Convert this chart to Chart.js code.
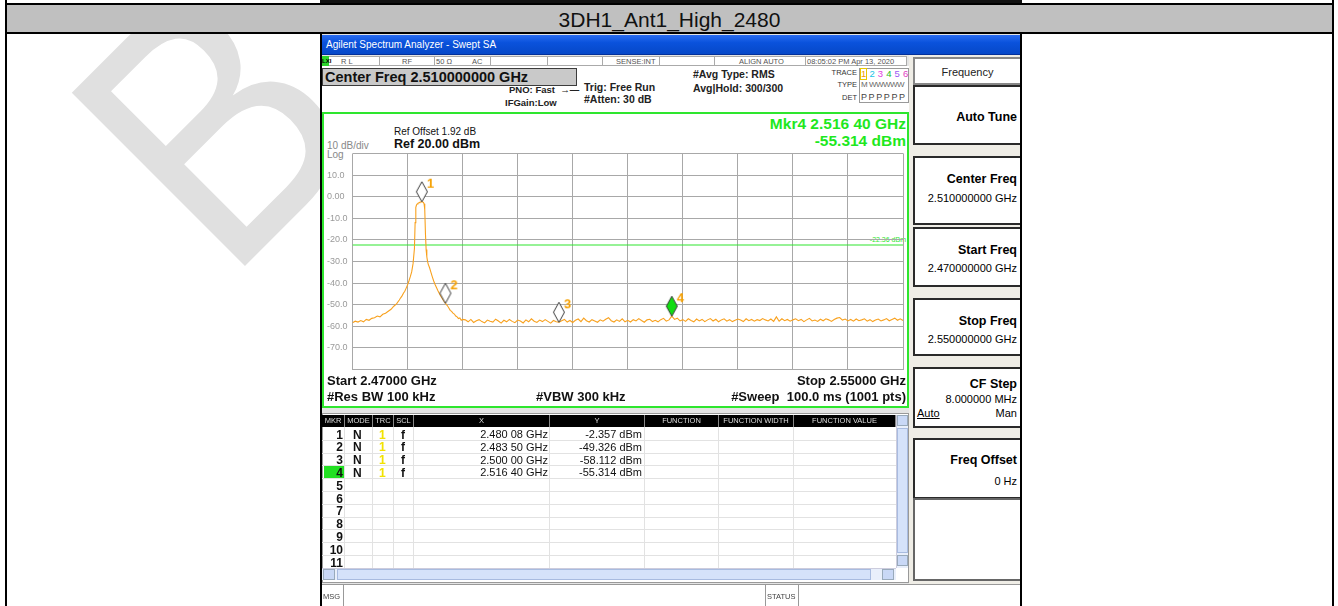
<!DOCTYPE html>
<html lang="en">
<head>
<meta charset="UTF-8">
<title>3DH1_Ant1_High_2480</title>
<script src="https://cdn.jsdelivr.net/npm/chart.js"></script>
<style>
  body {
    margin: 0;
    width: 1338px;
    height: 606px;
    overflow: hidden;
    background: #fff;
    font-family: "Liberation Sans", Arial, sans-serif;
    position: relative;
  }
  .a { position: absolute; box-sizing: border-box; }
  .t { position: absolute; white-space: nowrap; line-height: 1; }
  .b { font-weight: bold; }
  .sk {
    position: absolute;
    left: 913px;
    width: 107px;
    background: #fff;
    border: 2px solid #2a2a2a;
    border-right: none;
    box-sizing: border-box;
  }
  .sk .t { right: 3px; }
  .hdr { position: absolute; top: 415px; height: 12px; background: #000; color: #ddd;
         font-size: 7.5px; line-height: 12px; text-align: center; border-right: 1px solid #888; box-sizing: border-box; }
</style>
</head>
<body>

<canvas id="wm" class="a" width="1338" height="606" style="left:0;top:0"></canvas>

<!-- outer table -->
<div class="a" style="left:320px;top:0;width:702px;height:3px;background:#111"></div>
<div class="a" style="left:5px;top:3px;width:1329px;height:2px;background:#000"></div>
<div class="a" style="left:5px;top:5px;width:1329px;height:27px;background:#c0c0c0"></div>
<div class="t" id="title" style="left:5px;width:1329px;top:9px;text-align:center;font-size:21px;color:#111"></div>
<div class="a" style="left:5px;top:32px;width:1329px;height:2px;background:#000"></div>
<div class="a" style="left:5px;top:0;width:2px;height:606px;background:#000"></div>
<div class="a" style="left:1332px;top:0;width:2px;height:606px;background:#000"></div>

<!-- analyzer screenshot -->
<div class="a" style="left:320px;top:34px;width:702px;height:572px;background:#e4e4e4;border-left:2px solid #000;border-right:2px solid #000"></div>
<div class="a" style="left:322px;top:35px;width:698px;height:20px;background:linear-gradient(#2a6cf0,#0a52dc 40%,#0648c8);border-bottom:1px solid #03309a"></div>
<div class="t" style="left:326px;top:40px;font-size:10px;color:#fff">Agilent Spectrum Analyzer - Swept SA</div>

<!-- status row -->
<div class="a" style="left:322px;top:56px;width:585px;height:10px;background:#fff;border:1px solid #aaa"></div>
<div class="a" style="left:322px;top:56px;width:7px;height:10px;background:#2bd52b"></div>
<div class="t" style="left:322px;top:58px;font-size:6px;color:#000;font-weight:bold">LXI</div>
<div id="statusCells"></div>

<!-- measurement header -->
<div class="a" style="left:322px;top:66px;width:587px;height:46px;background:#fff"></div>
<div class="a" style="left:322px;top:68px;width:255px;height:18px;background:#c9c9c9;border:1px solid #3c3c3c"></div>
<div class="t b" id="cfText" style="left:325px;top:70px;font-size:14.5px;color:#111"></div>
<div class="t b" style="left:509px;top:85px;font-size:9.5px;color:#222">PNO: Fast &nbsp;&#8594;&#8212;</div>
<div class="t b" style="left:505px;top:98px;font-size:9.5px;color:#222">IFGain:Low</div>
<div class="t b" style="left:584px;top:82px;font-size:10.5px;color:#222">Trig: Free Run</div>
<div class="t b" style="left:584px;top:94px;font-size:10.5px;color:#222">#Atten: 30 dB</div>
<div class="t b" style="left:693px;top:69px;font-size:10.5px;color:#222">#Avg Type: RMS</div>
<div class="t b" style="left:693px;top:83px;font-size:10.5px;color:#222">Avg|Hold: 300/300</div>
<div class="t" style="right:481px;top:69px;font-size:7.5px;color:#333">TRACE</div>
<div class="t" style="right:481px;top:81px;font-size:7.5px;color:#333">TYPE</div>
<div class="t" style="right:481px;top:94px;font-size:7.5px;color:#333">DET</div>
<div class="a" style="left:859px;top:68px;width:50px;height:35px;border:1px solid #999"></div>
<div id="traceDigits"></div>
<div class="t" style="left:861px;top:81px;font-size:8px;color:#666;letter-spacing:-0.5px">M WWWWW</div>
<div class="t" style="left:861px;top:93px;font-size:9px;color:#444;letter-spacing:1.6px">PPPPPP</div>

<!-- plot panel -->
<div class="a" style="left:322px;top:112px;width:587px;height:296px;background:#fff;border:2px solid #2ee62e"></div>
<div class="t" style="left:394px;top:127px;font-size:10px;color:#111">Ref Offset 1.92 dB</div>
<div class="t b" style="left:394px;top:138px;font-size:12.5px;color:#111">Ref 20.00 dBm</div>
<div class="t" style="left:327px;top:141px;font-size:10px;color:#888">10 dB/div</div>
<div class="t" style="left:327px;top:150px;font-size:10px;color:#888">Log</div>
<div class="t b" id="mkrFreq" style="right:432px;top:116px;font-size:15.5px;color:#1ee81e"></div>
<div class="t b" id="mkrAmp" style="right:432px;top:133px;font-size:15.5px;color:#1ee81e"></div>
<div class="t" id="dlText" style="right:432px;top:236px;font-size:7px;color:#2ee62e"></div>
<canvas id="plot" class="a" style="left:327px;top:148px;width:581px;height:227px" width="581" height="227"></canvas>
<div class="t b" style="left:327px;top:374px;font-size:13px;color:#111">Start 2.47000 GHz</div>
<div class="t b" style="right:432px;top:374px;font-size:13px;color:#111">Stop 2.55000 GHz</div>
<div class="t b" style="left:327px;top:390px;font-size:13px;color:#111">#Res BW 100 kHz</div>
<div class="t b" style="left:536px;top:390px;font-size:13px;color:#111">#VBW 300 kHz</div>
<div class="t b" style="right:432px;top:390px;font-size:13px;color:#111">#Sweep&nbsp; 100.0 ms (1001 pts)</div>

<!-- marker table -->
<div class="a" style="left:322px;top:413px;width:587px;height:170px;background:#fff;border:1px solid #999"></div>
<div id="mkrTable"></div>
<div class="a" style="left:896px;top:415px;width:12px;height:153px;background:#e9effb;border-left:1px solid #ccd"></div>
<div class="a" style="left:897px;top:415px;width:11px;height:11px;background:#c9d8f6;border:1px solid #9ab"></div>
<div class="a" style="left:897px;top:428px;width:11px;height:125px;background:#d5e2fa;border:1px solid #a8bbe0"></div>
<div class="a" style="left:897px;top:555px;width:11px;height:11px;background:#c9d8f6;border:1px solid #9ab"></div>
<div class="a" style="left:322px;top:568px;width:574px;height:12px;background:#e9effb;border-top:1px solid #ccd"></div>
<div class="a" style="left:323px;top:569px;width:12px;height:11px;background:#c9d8f6;border:1px solid #9ab"></div>
<div class="a" style="left:337px;top:569px;width:534px;height:11px;background:#d5e2fa;border:1px solid #a8bbe0"></div>
<div class="a" style="left:882px;top:569px;width:12px;height:11px;background:#c9d8f6;border:1px solid #9ab"></div>

<!-- message bar -->
<div class="a" style="left:322px;top:584px;width:698px;height:22px;background:#fff;border-top:1px solid #999"></div>
<div class="a" style="left:343px;top:584px;width:1px;height:22px;background:#999"></div>
<div class="a" style="left:765px;top:584px;width:1px;height:22px;background:#999"></div>
<div class="a" style="left:798px;top:584px;width:1px;height:22px;background:#999"></div>
<div class="t" style="left:323px;top:593px;font-size:7.5px;color:#444">MSG</div>
<div class="t" style="left:767px;top:593px;font-size:7.5px;color:#444">STATUS</div>

<!-- softkeys -->
<div class="a" style="left:909px;top:55px;width:111px;height:529px;background:#efede6"></div>
<div class="sk" style="top:57px;height:28px;border-color:#888"><div class="t" style="left:0;right:0;top:8px;text-align:center;font-size:11px;color:#222">Frequency</div></div>
<div class="sk" style="top:85px;height:60px"><div class="t b" style="top:24px;font-size:12.5px">Auto Tune</div></div>
<div class="sk" style="top:156px;height:69px"><div class="t b" style="top:15px;font-size:12.5px">Center Freq</div><div class="t" style="top:35px;font-size:11px">2.510000000 GHz</div></div>
<div class="sk" style="top:227px;height:60px"><div class="t b" style="top:15px;font-size:12.5px">Start Freq</div><div class="t" style="top:34px;font-size:11px">2.470000000 GHz</div></div>
<div class="sk" style="top:298px;height:58px"><div class="t b" style="top:15px;font-size:12.5px">Stop Freq</div><div class="t" style="top:34px;font-size:11px">2.550000000 GHz</div></div>
<div class="sk" style="top:367px;height:61px"><div class="t b" style="top:9px;font-size:12.5px">CF Step</div><div class="t" style="top:25px;font-size:11px">8.000000 MHz</div><div class="t" style="top:39px;font-size:11px">Man</div><div class="t" style="left:2px;right:auto;top:39px;font-size:11px;text-decoration:underline">Auto</div></div>
<div class="sk" style="top:438px;height:61px"><div class="t b" style="top:14px;font-size:12.5px">Freq Offset</div><div class="t" style="top:36px;font-size:11px">0 Hz</div></div>
<div class="sk" style="top:498px;height:83px;border-color:#666"></div>

<script>
const pageTitle = '3DH1_Ant1_High_2480';
const startMHz = 2470;
const stopMHz = 2550;
const centerText = 'Center Freq 2.510000000 GHz';
const displayLineDbm = -22.36;

// y axis: reference level 20 dBm, 10 dB/div
const yTickValues = [20, 10, 0, -10, -20, -30, -40, -50, -60, -70, -80];
const yTickLabels = ['', '10.0', '0.00', '-10.0', '-20.0', '-30.0', '-40.0', '-50.0', '-60.0', '-70.0', ''];

// trace 1 around the carrier, offsets from start in MHz
const skirtMHz = [0, 0.4, 0.8, 1.2, 1.6, 2.0, 2.4, 2.8, 3.2, 3.6, 4.0, 4.4, 4.8, 5.2, 5.6, 6.0, 6.4, 6.8,
  7.0, 7.2, 7.4, 7.6, 7.8, 8.0, 8.2, 8.4, 8.6, 8.8, 9.0,
  9.1, 9.2, 9.3, 9.4, 9.5, 9.6, 9.7, 9.8, 9.9, 10.0,
  10.08,
  10.2, 10.3, 10.4, 10.5, 10.6, 10.7, 10.8, 10.9, 11.0,
  11.2, 11.4, 11.6, 11.8, 12.0, 12.2, 12.4, 12.6, 12.8, 13.0, 13.2,
  13.5, 13.8,
  14.0, 14.2, 14.4, 14.6, 14.8, 15.0, 15.2, 15.4, 15.6, 15.8, 16.0];
const skirtDbm = [-58.3, -57.6, -58.0, -57.3, -57.9, -56.8, -57.2, -56.3, -56.0, -55.2, -55.6, -54.4, -53.9, -53.0, -52.1, -50.7, -49.6, -47.8,
  -46.8, -45.9, -44.7, -43.8, -42.3, -40.8, -39.0, -37.0, -34.8, -31.0, -24.0,
  -12.0, -5.0, -3.9, -3.4, -3.1, -2.9, -2.75, -2.6, -2.5, -2.42,
  -2.357,
  -2.45, -2.7, -3.3, -6.0, -17.0, -24.5, -27.8, -29.8, -31.2,
  -32.9, -35.0, -37.1, -39.0, -40.6, -42.0, -43.4, -44.7, -45.8, -46.9, -47.9,
  -49.326, -50.5,
  -51.5, -52.6, -53.1, -53.9, -54.3, -55.2, -55.6, -56.4, -56.1, -57.2, -56.8];

// noise floor, one reading every 0.4 MHz from 16.4 MHz to the stop frequency
const floorFirstMHz = 16.4;
const floorStepMHz = 0.4;
const floorDbm = [
  -57.0, -57.9, -56.8, -58.2, -57.4, -56.9, -57.8, -58.4, -57.1, -57.6,
  -58.0, -56.7, -57.5, -58.5, -57.2, -57.9, -56.8, -57.7, -58.3, -57.1,
  -57.5, -58.4, -57.0, -57.9, -56.5, -57.6, -58.2, -57.1, -57.8, -56.9,
  -57.7, -58.5, -57.3, -57.9, -58.112, -57.4, -56.8, -58.0, -57.3, -58.2,
  -57.2, -56.6, -57.8, -56.2, -57.4, -58.0, -56.9, -57.5, -58.1, -57.0,
  -57.6, -56.7, -56.0, -57.4, -58.0, -57.0, -57.7, -56.5, -57.9, -57.2,
  -58.0, -56.9, -57.5, -56.4, -57.3, -58.1, -57.0, -56.7, -57.8, -57.2,
  -57.9, -56.9, -56.3, -57.6, -57.0, -55.314, -56.8, -56.2, -57.5, -56.9,
  -57.7, -56.5, -57.3, -57.9, -56.6, -57.5, -56.8, -57.8, -57.0, -56.4,
  -57.5, -56.7, -57.9, -57.0, -56.5, -57.6, -56.9, -57.8, -57.2, -56.6,
  -57.1, -57.8, -56.5, -57.4, -56.8, -57.6, -56.9, -57.3, -56.4, -57.0,
  -57.5, -56.6, -57.7, -55.6, -57.6, -56.5, -57.4, -56.8, -57.6, -57.0,
  -56.5, -57.4, -56.8, -57.8, -57.0, -56.3, -57.5, -57.1, -57.7, -56.7,
  -57.4, -56.5, -57.0, -57.7, -56.8, -56.2, -55.9, -57.1, -56.6, -57.5,
  -56.8, -57.6, -56.6, -57.4, -57.0, -56.5, -57.6, -56.9, -57.8, -57.1,
  -56.6, -57.5, -57.0, -56.4, -57.4, -56.8, -56.2, -57.2, -56.5, -57.3];

// markers
const markerNum = [1, 2, 3, 4];
const markerMHz = [2480.08, 2483.50, 2500.00, 2516.40];
const markerDbm = [-2.357, -49.326, -58.112, -55.314];
const activeMarker = 3;

// status row texts
const statusTexts = ['R L', 'RF', '50 \u03a9', 'AC', 'SENSE:INT', 'ALIGN AUTO', '08:05:02 PM Apr 13, 2020'];
const statusX = [341, 402, 436, 472, 616, 739, 807];
const statusDividers = [379, 434, 490, 547, 602, 659, 714, 805];

const traceDigitColors = ['#f29b00', '#18c4e6', '#e23ee0', '#22c022', '#9a58f4', '#e03cc0'];

const tableCols = ['MKR', 'MODE', 'TRC', 'SCL', 'X', 'Y', 'FUNCTION', 'FUNCTION WIDTH', 'FUNCTION VALUE'];
const tableColEdges = [322, 345, 373, 394, 414, 550, 645, 719, 794, 896];
const tableRows = 11;

document.getElementById('title').textContent = pageTitle;
document.getElementById('cfText').textContent = centerText;

function fmtGHz(mhz) {
  const s = (mhz / 1000).toFixed(5);
  return s.slice(0, 5) + ' ' + s.slice(5) + ' GHz';
}
document.getElementById('mkrFreq').textContent = 'Mkr' + markerNum[activeMarker] + ' ' + fmtGHz(markerMHz[activeMarker]);
document.getElementById('mkrAmp').textContent = markerDbm[activeMarker].toFixed(3) + ' dBm';
document.getElementById('dlText').textContent = displayLineDbm.toFixed(2) + ' dBm';

// status row
let html = '';
statusDividers.forEach(x => { html += `<div class="a" style="left:${x}px;top:57px;width:1px;height:8px;background:#aaa"></div>`; });
statusTexts.forEach((s, i) => { html += `<div class="t" style="left:${statusX[i]}px;top:57.5px;font-size:7.5px;color:#555">${s}</div>`; });
document.getElementById('statusCells').innerHTML = html;

html = '';
traceDigitColors.forEach((c, i) => {
  const box = i === 0 ? 'outline:1px solid #e8c800;' : '';
  html += `<div class="t" style="left:${861 + i * 8.4}px;top:69px;font-size:9.5px;color:${c};${box}">${i + 1}</div>`;
});
document.getElementById('traceDigits').innerHTML = html;

// marker table
html = '';
tableCols.forEach((c, i) => {
  const l = tableColEdges[i], w = tableColEdges[i + 1] - l;
  html += `<div class="hdr" style="left:${l}px;width:${w}px">${c}</div>`;
});
const rowH = 12.8;
for (let r = 0; r < tableRows; r++) {
  const top = 428 + r * rowH;
  html += `<div class="a" style="left:322px;top:${top + rowH - 1}px;width:574px;height:1px;background:#e2e2e2"></div>`;
  if (r === activeMarker) {
    html += `<div class="a" style="left:324px;top:${top}px;width:21px;height:${rowH - 1}px;background:#22e022"></div>`;
  }
  html += `<div class="t b" style="right:${1338 - 343}px;top:${top + 0.5}px;font-size:12px;color:#111">${r + 1}</div>`;
  if (r < markerNum.length) {
    html += `<div class="t b" style="left:353px;top:${top + 0.5}px;font-size:12px;color:#111">N</div>`;
    html += `<div class="t b" style="left:379px;top:${top + 0.5}px;font-size:12px;color:#f2e200">1</div>`;
    html += `<div class="t b" style="left:401px;top:${top + 0.5}px;font-size:12px;color:#111">f</div>`;
    html += `<div class="t" style="right:${1338 - 548}px;top:${top + 1}px;font-size:11px;color:#111">${fmtGHz(markerMHz[r])}</div>`;
    html += `<div class="t" style="right:${1338 - 642}px;top:${top + 1}px;font-size:11px;color:#111">${markerDbm[r].toFixed(3)} dBm</div>`;
  }
}
tableColEdges.slice(1, -1).forEach(x => {
  html += `<div class="a" style="left:${x - 1}px;top:427px;width:1px;height:141px;background:#e2e2e2"></div>`;
});
document.getElementById('mkrTable').innerHTML = html;

// watermark letter
(function () {
  const c = document.getElementById('wm').getContext('2d');
  c.fillStyle = '#e0e0e0';
  c.font = '356px "Liberation Sans", Arial, sans-serif';
  c.translate(227, 284);
  c.rotate(-Math.PI / 4);
  c.scale(0.87, 1);
  c.fillText('B', 0, 0);
})();

// marker glyphs: the tip of the diamond sits on the image centre
function markerImage(num, active) {
  const cv = document.createElement('canvas');
  cv.width = 40; cv.height = 50;
  const g = cv.getContext('2d');
  g.beginPath();
  g.moveTo(20, 5); g.lineTo(25.5, 15); g.lineTo(20, 25); g.lineTo(14.5, 15); g.closePath();
  g.fillStyle = active ? '#12dd12' : '#ffffff';
  g.fill();
  g.strokeStyle = '#3a3a3a';
  g.lineWidth = 1;
  g.stroke();
  g.fillStyle = '#f5a000';
  g.font = 'bold 13px "Liberation Sans", Arial, sans-serif';
  g.textAlign = 'center';
  g.textBaseline = 'middle';
  g.fillText(String(num), 28.5, 7.5);
  return cv;
}

const traceData = [];
skirtMHz.forEach((f, i) => traceData.push({ x: startMHz + f, y: skirtDbm[i] }));
floorDbm.forEach((v, i) => traceData.push({ x: startMHz + floorFirstMHz + i * floorStepMHz, y: v }));

const markerData = markerMHz.map((f, i) => ({ x: f, y: markerDbm[i] }));
const markerStyles = markerNum.map((n, i) => markerImage(n, i === activeMarker));

const gridColor = '#a8a8a8';

new Chart(document.getElementById('plot').getContext('2d'), {
  type: 'line',
  data: {
    datasets: [
      {
        label: 'Display line',
        data: [{ x: startMHz, y: displayLineDbm }, { x: stopMHz, y: displayLineDbm }],
        borderColor: '#2ee62e',
        borderWidth: 1.2,
        pointRadius: 0,
        order: 3
      },
      {
        label: 'Trace 1',
        data: traceData,
        borderColor: '#f8a11e',
        borderWidth: 1.1,
        pointRadius: 0,
        tension: 0,
        order: 2
      },
      {
        label: 'Markers',
        data: markerData,
        showLine: false,
        pointStyle: markerStyles,
        pointRadius: 3,
        order: 1
      }
    ]
  },
  options: {
    responsive: false,
    animation: false,
    layout: { padding: { top: 3, bottom: 3, right: 1, left: 0 } },
    plugins: { legend: { display: false }, tooltip: { enabled: false } },
    scales: {
      x: {
        type: 'linear',
        min: startMHz,
        max: stopMHz,
        ticks: { display: false, stepSize: 8 },
        grid: { color: gridColor, drawTicks: false },
        border: { display: false }
      },
      y: {
        min: yTickValues[yTickValues.length - 1],
        max: yTickValues[0],
        ticks: {
          stepSize: 10,
          color: '#9a9a9a',
          font: { size: 9, family: '"Liberation Sans", Arial, sans-serif' },
          crossAlign: 'far',
          padding: 0,
          callback: v => yTickLabels[yTickValues.indexOf(v)]
        },
        grid: { color: gridColor, drawTicks: false },
        border: { display: false },
        afterFit: s => { s.width = 25.5; }
      }
    }
  }
});
</script>
</body>
</html>
